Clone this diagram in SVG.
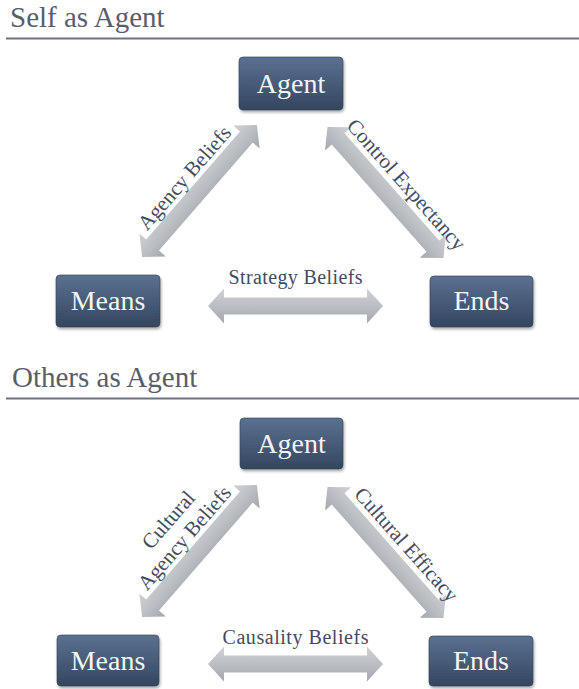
<svg xmlns="http://www.w3.org/2000/svg" xmlns:xlink="http://www.w3.org/1999/xlink" width="579" height="689" viewBox="0 0 579 689">
  <defs>
    <linearGradient id="boxFill" x1="0" y1="0" x2="0" y2="1">
      <stop offset="0" stop-color="#5b7191"/>
      <stop offset="1" stop-color="#34465f"/>
    </linearGradient>
    <linearGradient id="arrowFill" x1="0" y1="0" x2="0" y2="1">
      <stop offset="0" stop-color="#cfd1d5"/>
      <stop offset="0.55" stop-color="#b9bcc1"/>
      <stop offset="1" stop-color="#a3a6ac"/>
    </linearGradient>
    <filter id="soft" x="-10%" y="-10%" width="130%" height="140%">
      <feGaussianBlur in="SourceAlpha" stdDeviation="1.5"/>
      <feOffset dx="1" dy="1.5" result="b"/>
      <feComponentTransfer><feFuncA type="linear" slope="0.35"/></feComponentTransfer>
      <feMerge><feMergeNode/><feMergeNode in="SourceGraphic"/></feMerge>
    </filter>
    <!-- double-headed block arrow, 175 long, centred on the origin -->
    <path id="dbl" d="M-87.5,0 L-71.5,-17.5 L-71.5,-8.5 L71.5,-8.5 L71.5,-17.5 L87.5,0 L71.5,17.5 L71.5,8.5 L-71.5,8.5 L-71.5,17.5 Z"/>
  </defs>
  <style>
    text { font-family: "Liberation Serif", "Times New Roman", Times, "DejaVu Serif", serif; }
    .title { font-size: 29px; fill: #585d6c; }
    .rule { stroke: #6c7282; stroke-width: 2; }
    .box { fill: url(#boxFill); stroke: #2f3e55; stroke-width: 0.6; filter: url(#soft); }
    .node text { font-size: 28px; fill: #f2f4f7; text-anchor: middle; }
    .arrow { fill: url(#arrowFill); }
    .lbl { font-size: 20px; fill: #434b5e; text-anchor: middle; }
    .diag { font-size: 21px; }
  </style>

  <rect width="579" height="689" fill="#ffffff"/>

  <!-- section headings -->
  <text class="title" x="10" y="27">Self as Agent</text>
  <line class="rule" x1="6" y1="38.5" x2="579" y2="38.5"/>
  <text class="title" x="12" y="387">Others as Agent</text>
  <line class="rule" x1="6" y1="398.5" x2="579" y2="398.5"/>

  <!-- connectors -->
  <g id="connectors">
    <g transform="translate(199.5,191) rotate(-49)">
      <use href="#dbl" class="arrow"/>
      <text class="lbl diag" x="0" y="-13">Agency Beliefs</text>
    </g>
    <g transform="translate(385.5,192.5) rotate(48.5)">
      <use href="#dbl" class="arrow"/>
      <text class="lbl diag" x="8" y="-14">Control Expectancy</text>
    </g>
    <g transform="translate(295.5,306)">
      <use href="#dbl" class="arrow"/>
      <text class="lbl" x="0" y="-22" textLength="134">Strategy Beliefs</text>
    </g>

    <g transform="translate(199.5,551) rotate(-49)">
      <use href="#dbl" class="arrow"/>
      <text class="lbl diag" x="3" y="-37">Cultural</text>
      <text class="lbl diag" x="0" y="-13">Agency Beliefs</text>
    </g>
    <g transform="translate(385.5,552.5) rotate(48.5)">
      <use href="#dbl" class="arrow"/>
      <text class="lbl diag" x="8" y="-14">Cultural Efficacy</text>
    </g>
    <g transform="translate(295.5,664)">
      <use href="#dbl" class="arrow"/>
      <text class="lbl" x="0" y="-20" textLength="146">Causality Beliefs</text>
    </g>
  </g>

  <!-- nodes: self as agent -->
  <g id="self-agent" class="node">
    <rect class="box" x="239" y="57" width="104" height="53" rx="4"/>
    <text x="291" y="93">Agent</text>
  </g>
  <g id="self-means" class="node">
    <rect class="box" x="56" y="275" width="104" height="52" rx="4"/>
    <text x="108" y="310">Means</text>
  </g>
  <g id="self-ends" class="node">
    <rect class="box" x="430" y="276" width="103" height="51" rx="4"/>
    <text x="481.5" y="310">Ends</text>
  </g>

  <!-- nodes: others as agent -->
  <g id="others-agent" class="node">
    <rect class="box" x="240" y="418" width="103" height="51" rx="4"/>
    <text x="291.5" y="453">Agent</text>
  </g>
  <g id="others-means" class="node">
    <rect class="box" x="57" y="635" width="102" height="51" rx="4"/>
    <text x="108" y="670">Means</text>
  </g>
  <g id="others-ends" class="node">
    <rect class="box" x="429" y="636" width="104" height="50" rx="4"/>
    <text x="481" y="670">Ends</text>
  </g>
</svg>
